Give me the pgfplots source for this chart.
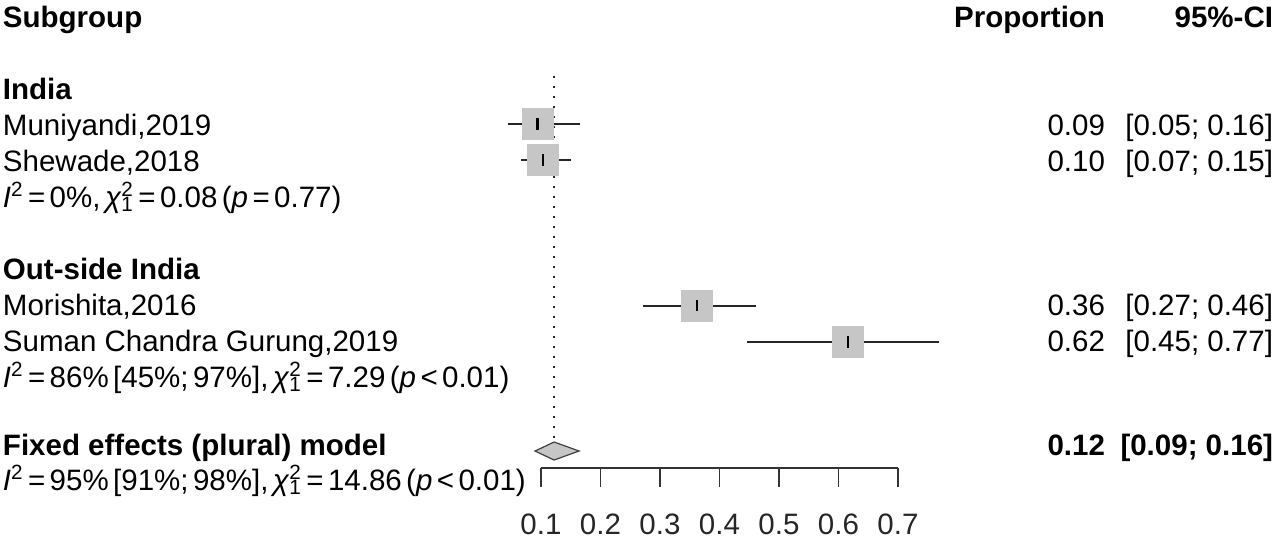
\documentclass[border=0pt]{standalone}
\usepackage{fontspec}
\setmainfont{Liberation Sans}
\usepackage{pgfplots}
\pgfplotsset{compat=1.18}
\usepackage{pgfplotstable}

% y = -pixel row of the reference; x = proportion
\pgfplotstableread{
y      est    em     ep
-124   0.094  0.049  0.071
-160   0.104  0.038  0.046
-305.5 0.362  0.091  0.099
-342   0.616  0.170  0.153
}\studies

\pgfplotstableread{
x      y
0.090  -451
0.122  -442
0.164  -451
0.122  -460
0.090  -451
}\diamondtab

\newcommand{\xL}{-0.8042}
\newcommand{\xP}{1.0479}
\newcommand{\xC}{1.3303}
\newcommand{\chisq}{\textit{χ}\rlap{\textsuperscript{2}}\textsubscript{1}}
\newcommand{\Isq}{\textit{I}\textsuperscript{2}}
\newcommand{\stat}[1]{{\spaceskip=0.15em plus 0.02em minus 0.02em\relax #1}}
\tikzset{lab/.style={inner sep=0pt, outer sep=0pt}}

\begin{document}
\fontsize{14.75}{17}\selectfont
\begin{tikzpicture}
\begin{axis}[
  scale only axis,
  width=178.5pt, height=234pt,
  xmin=0.1, xmax=0.7, ymin=-468, ymax=0,
  clip=false,
  axis x line*=bottom, axis y line=none,
  xtick={0.1,0.2,0.3,0.4,0.5,0.6,0.7},
  xticklabels={0.1,0.2,0.3,0.4,0.5,0.6,0.7},
  tick align=outside,
  major tick length=9.5pt,
  minor tick num=0,
  axis line style={black!80, line width=0.6pt},
  every tick/.style={black!80, line width=0.6pt},
  ticklabel style={font=\fontsize{14.75}{17}\selectfont, text=black!85},
  xticklabel style={yshift=-8.5pt},
  /pgf/number format/assume math mode=true,
]
% reference (dotted) line at the pooled estimate
\addplot[black!85, line width=0.8pt, dash pattern=on 0.8pt off 4.2pt] coordinates {(0.122,-76) (0.122,-440)};
% study boxes
\addplot[only marks, mark=square*, mark size=7.75pt, mark options={fill=gray!45, draw=gray!45, rounded corners=1pt}] table[x=est, y=y] {\studies};
% confidence intervals and centre ticks
\addplot[only marks, mark=|, mark size=2.8pt, mark options={black, line width=1.1pt},
  error bars/.cd, x dir=both, x explicit, error mark=none,
  error bar style={black!85, line width=1pt}]
  table[x=est, y=y, x error minus=em, x error plus=ep] {\studies};
% pooled diamond
\addplot[fill=gray!45, draw=black!75, line width=0.6pt] table[x=x, y=y] {\diamondtab} -- cycle;

% left column
\node[lab, anchor=base west, font=\bfseries] at (axis cs:\xL,-28) {Subgroup};
\node[lab, anchor=base west, font=\bfseries] at (axis cs:\xL,-99.5) {India};
\node[lab, anchor=base west] at (axis cs:\xL,-135.5) {Muniyandi,2019};
\node[lab, anchor=base west] at (axis cs:\xL,-171.5) {Shewade,2018};
\node[lab, anchor=base west] at (axis cs:\xL,-207) {\stat{\Isq{} = 0\%, \chisq{} = 0.08 (\textit{p} = 0.77)}};
\node[lab, anchor=base west, font=\bfseries] at (axis cs:\xL,-279.5) {Out-side India};
\node[lab, anchor=base west] at (axis cs:\xL,-315.5) {Morishita,2016};
\node[lab, anchor=base west] at (axis cs:\xL,-351.5) {Suman Chandra Gurung,2019};
\node[lab, anchor=base west] at (axis cs:\xL,-387) {\stat{\Isq{} = 86\% [45\%; 97\%], \chisq{} = 7.29 (\textit{p} < 0.01)}};
\node[lab, anchor=base west, font=\bfseries] at (axis cs:\xL,-455) {Fixed effects (plural) model};
\node[lab, anchor=base west] at (axis cs:\xL,-490) {\stat{\Isq{} = 95\% [91\%; 98\%], \chisq{} = 14.86 (\textit{p} < 0.01)}};

% right columns
\node[lab, anchor=base east, font=\bfseries] at (axis cs:\xP,-28) {Proportion};
\node[lab, anchor=base east, font=\bfseries] at (axis cs:\xC,-28) {95\%-CI};
\node[lab, anchor=base east] at (axis cs:\xP,-135.5) {0.09};
\node[lab, anchor=base east] at (axis cs:\xC,-135.5) {[0.05; 0.16]};
\node[lab, anchor=base east] at (axis cs:\xP,-171.5) {0.10};
\node[lab, anchor=base east] at (axis cs:\xC,-171.5) {[0.07; 0.15]};
\node[lab, anchor=base east] at (axis cs:\xP,-315.5) {0.36};
\node[lab, anchor=base east] at (axis cs:\xC,-315.5) {[0.27; 0.46]};
\node[lab, anchor=base east] at (axis cs:\xP,-351.5) {0.62};
\node[lab, anchor=base east] at (axis cs:\xC,-351.5) {[0.45; 0.77]};
\node[lab, anchor=base east, font=\bfseries] at (axis cs:\xP,-455) {0.12};
\node[lab, anchor=base east, font=\bfseries] at (axis cs:\xC,-455) {[0.09; 0.16]};

\coordinate (bbSW) at (axis cs:-0.80924,-542);
\coordinate (bbNE) at (axis cs:1.34202,0);
\end{axis}
\pgfresetboundingbox
\path (bbSW) rectangle (bbNE);
\end{tikzpicture}
\end{document}
